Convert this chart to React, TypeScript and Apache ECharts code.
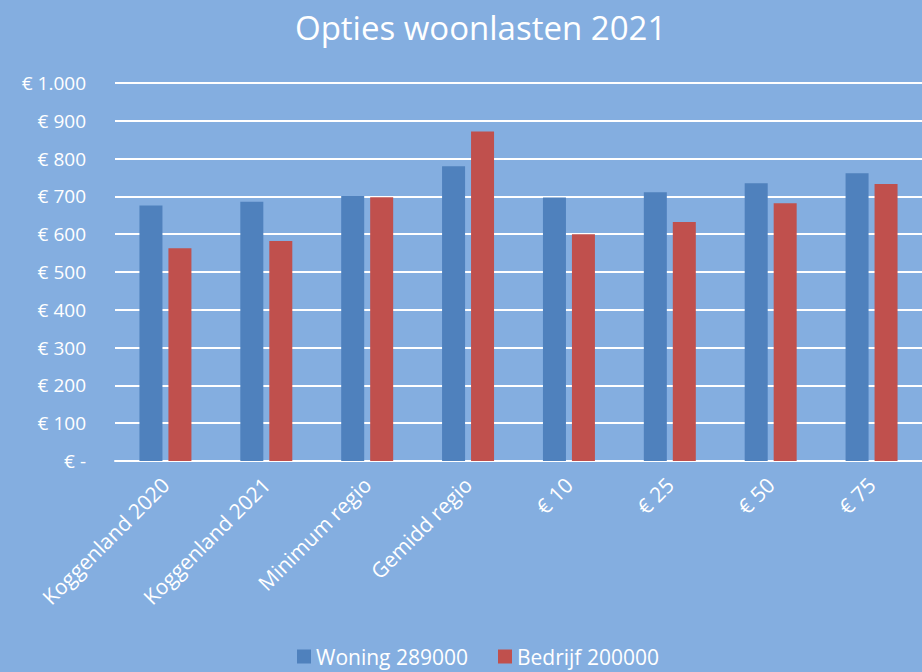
import React, { useEffect, useRef } from "react";
import * as echarts from "echarts";

const categories = ["Koggenland 2020", "Koggenland 2021", "Minimum regio", "Gemidd regio", "€ 10", "€ 25", "€ 50", "€ 75"];
const woning = [676, 686, 701, 780, 697, 711, 735, 761];
const bedrijf = [563, 582, 698, 872, 600, 632, 682, 733];
const seriesNames = ["Woning 289000", "Bedrijf 200000"];

const fmt = (v: number) => (v === 0 ? "€ -" : "€ " + v.toLocaleString("nl-NL"));

export default function App() {
  const ref = useRef<HTMLDivElement>(null);
  useEffect(() => {
    const chart = echarts.init(ref.current!, null, { renderer: "svg" });
    const font = "'Open Sans', Lato, sans-serif";
    chart.setOption({
      animation: false,
      backgroundColor: "#84aee0",
      textStyle: { fontFamily: font },
      title: {
        text: "Opties woonlasten 2021",
        left: 290,
        top: 6,
        textStyle: { color: "#ffffff", fontSize: 33, fontWeight: "normal", fontFamily: font },
      },
      legend: {
        bottom: 0,
        left: 292,
        itemWidth: 14,
        itemHeight: 14,
        itemGap: 30,
        icon: "rect",
        textStyle: { color: "#ffffff", fontSize: 21, fontFamily: font },
        data: seriesNames,
      },
      grid: { left: 115, right: 0, top: 83, bottom: 211, containLabel: false },
      xAxis: {
        type: "category",
        data: categories,
        axisLine: { lineStyle: { color: "#ffffff", width: 2 } },
        axisTick: { show: false },
        axisLabel: { color: "#ffffff", fontSize: 21, rotate: 45, margin: 20, interval: 0 },
      },
      yAxis: {
        type: "value",
        min: 0,
        max: 1000,
        interval: 100,
        axisLine: { show: false },
        axisTick: { show: false },
        splitLine: { lineStyle: { color: "#ffffff", width: 2 } },
        axisLabel: { color: "#ffffff", fontSize: 19, margin: 29, formatter: fmt },
      },
      series: [
        { name: seriesNames[0], type: "bar", data: woning, barWidth: 23, barGap: "26%", itemStyle: { color: "#4f81bd" } },
        { name: seriesNames[1], type: "bar", data: bedrijf, barWidth: 23, barGap: "26%", itemStyle: { color: "#c0504d" } },
      ],
    });
    return () => chart.dispose();
  }, []);
  return <div ref={ref} style={{ width: 922, height: 672, position: "absolute", left: 0, top: 0 }} />;
}
